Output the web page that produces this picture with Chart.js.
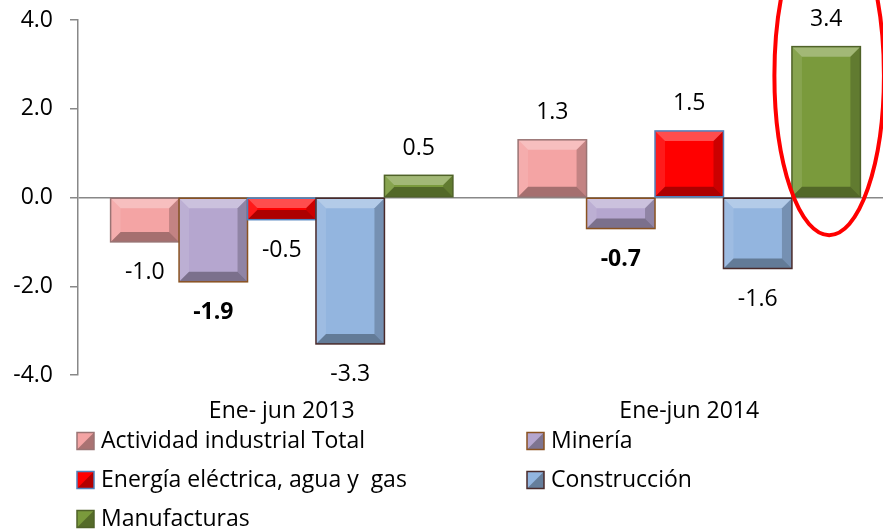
<!DOCTYPE html>
<html>
<head>
<meta charset="utf-8">
<script src="https://cdn.jsdelivr.net/npm/chart.js@4"></script>
<style>
html,body{margin:0;padding:0;background:#fff;overflow:hidden;width:883px;height:529px;}
canvas{display:block;}
</style>
</head>
<body>
<canvas id="c" width="900" height="529"></canvas>
<script>
// ---- data ----
const categories = ['Ene- jun 2013', 'Ene-jun 2014'];
const seriesNames = ['Actividad industrial Total', 'Minería', 'Energía eléctrica, agua y  gas', 'Construcción', 'Manufacturas'];
const actividad = [-1.0, 1.3];
const mineria = [-1.9, -0.7];
const energia = [-0.5, 1.5];
const construccion = [-3.3, -1.6];
const manufacturas = [0.5, 3.4];
const yTicks = [-4, -2, 0, 2, 4];

// ---- styles ----
const FONT = '"Open Sans"';
const FSIZE = 23;
const fills = ['#F4A4A4', '#B5A6CF', '#FF0000', '#93B5DF', '#7A9A3C'];
const borders = ['#9A7474', '#8A5220', '#4F81BD', '#4A2A2A', '#4F6228'];
const boldLabels = {'1-0': true, '1-1': true}; // dataset-index: data-index

const seriesValues = [actividad, mineria, energia, construccion, manufacturas];

function bevel(ctx, l, t, r, b, fill, border) {
  const w = r - l, h = b - t;
  const i = Math.max(2, Math.min(10, h / 2 - 1, w / 2 - 1));
  ctx.save();
  ctx.fillStyle = fill;
  ctx.fillRect(l, t, w, h);
  const poly = (pts, c) => { ctx.beginPath(); ctx.moveTo(pts[0][0], pts[0][1]); for (let k = 1; k < pts.length; k++) ctx.lineTo(pts[k][0], pts[k][1]); ctx.closePath(); ctx.fillStyle = c; ctx.fill(); };
  poly([[l, t], [r, t], [r - i, t + i], [l + i, t + i]], 'rgba(255,255,255,0.3)');
  poly([[l, t], [l + i, t + i], [l + i, b - i], [l, b]], 'rgba(255,255,255,0.1)');
  poly([[r, t], [r, b], [r - i, b - i], [r - i, t + i]], 'rgba(0,0,0,0.2)');
  poly([[l, b], [r, b], [r - i, b - i], [l + i, b - i]], 'rgba(0,0,0,0.32)');
  ctx.strokeStyle = border;
  ctx.lineWidth = 1.5;
  ctx.strokeRect(l, t, w, h);
  ctx.restore();
}

const bevelPlugin = {
  id: 'bevel',
  afterDatasetsDraw(chart) {
    const ctx = chart.ctx;
    chart.data.datasets.forEach((ds, di) => {
      const meta = chart.getDatasetMeta(di);
      meta.data.forEach((el) => {
        const p = el.getProps(['x', 'y', 'base', 'width'], true);
        const l = p.x - p.width / 2, r = p.x + p.width / 2;
        const t = Math.min(p.y, p.base), b = Math.max(p.y, p.base);
        bevel(ctx, l, t, r, b, fills[di], borders[di]);
      });
    });
    // value labels
    ctx.save();
    ctx.fillStyle = '#000';
    ctx.textAlign = 'center';
    ctx.textBaseline = 'middle';
    chart.data.datasets.forEach((ds, di) => {
      const meta = chart.getDatasetMeta(di);
      meta.data.forEach((el, i) => {
        const v = ds.data[i];
        const bold = boldLabels[di + '-' + i];
        ctx.font = (bold ? 'bold ' : '') + FSIZE + 'px ' + FONT;
        const y = v >= 0 ? el.y - 27 : el.y + 31;
        ctx.fillText(v.toFixed(1), el.x, y);
      });
    });
    // red ellipse around Manufacturas 2014
    const el = chart.getDatasetMeta(4).data[1];
    const ys = chart.scales.y;
    const cy = ys.getPixelForValue(2.75);
    const bottom = ys.getPixelForValue(-0.85);
    ctx.beginPath();
    ctx.ellipse(el.x + 3, cy, el.width * 0.8, bottom - cy, 0, 0, Math.PI * 2);
    ctx.strokeStyle = '#FF0000';
    ctx.lineWidth = 4;
    ctx.stroke();
    ctx.restore();
  },
  afterDraw(chart) {
    const ctx = chart.ctx;
    ctx.save();
    ctx.font = FSIZE + 'px ' + FONT;
    ctx.textBaseline = 'middle';
    ctx.textAlign = 'left';
    const cols = [77, 527];
    const rows = [441, 480, 519];
    seriesNames.forEach((name, k) => {
      const x = cols[k % 2], y = rows[Math.floor(k / 2)];
      const s = 17;
      const l = x, t = y - s / 2;
      ctx.fillStyle = fills[k];
      ctx.fillRect(l, t, s, s);
      ctx.beginPath();
      ctx.moveTo(l + s, t); ctx.lineTo(l + s, t + s); ctx.lineTo(l, t + s); ctx.closePath();
      ctx.fillStyle = 'rgba(0,0,0,0.3)';
      ctx.fill();
      ctx.strokeStyle = borders[k];
      ctx.lineWidth = 1.5;
      ctx.strokeRect(l, t, s, s);
      ctx.fillStyle = '#000';
      ctx.fillText(name, x + 24, y);
    });
    ctx.restore();
  }
};

new Chart(document.getElementById('c'), {
  type: 'bar',
  data: {
    labels: categories,
    datasets: seriesNames.map((n, k) => ({
      label: n,
      data: seriesValues[k],
      backgroundColor: 'rgba(0,0,0,0)',
      borderWidth: 0
    }))
  },
  options: {
    responsive: false,
    animation: false,
    events: [],
    layout: { padding: { top: 20, right: 7, bottom: 94, left: 0 } },
    datasets: { bar: { barPercentage: 1, categoryPercentage: 0.84 } },
    plugins: { legend: { display: false }, tooltip: { enabled: false } },
    scales: {
      x: {
        grid: { display: false, drawTicks: false },
        border: { display: false },
        ticks: { color: '#000', font: { family: FONT, size: FSIZE }, padding: 23 },
        afterFit(s) { s.height = 60; s.paddingLeft = 0; s.paddingRight = 0; }
      },
      y: {
        min: -4, max: 4,
        afterBuildTicks(s) { s.ticks = yTicks.map(v => ({ value: v })); },
        grid: {
          color: (c) => (c.tick && c.tick.value === 0 ? '#888' : 'rgba(0,0,0,0)'),
          lineWidth: 1.5,
          tickColor: '#888',
          tickLength: 8,
          drawTicks: true
        },
        border: { display: true, color: '#888', width: 1.5 },
        ticks: {
          color: '#000', font: { family: FONT, size: FSIZE }, padding: 17,
          callback: (v) => Number(v).toFixed(1)
        },
        afterFit(s) { s.width = 78; s.paddingTop = 0; s.paddingBottom = 0; }
      }
    }
  },
  plugins: [bevelPlugin]
});
</script>
</body>
</html>
